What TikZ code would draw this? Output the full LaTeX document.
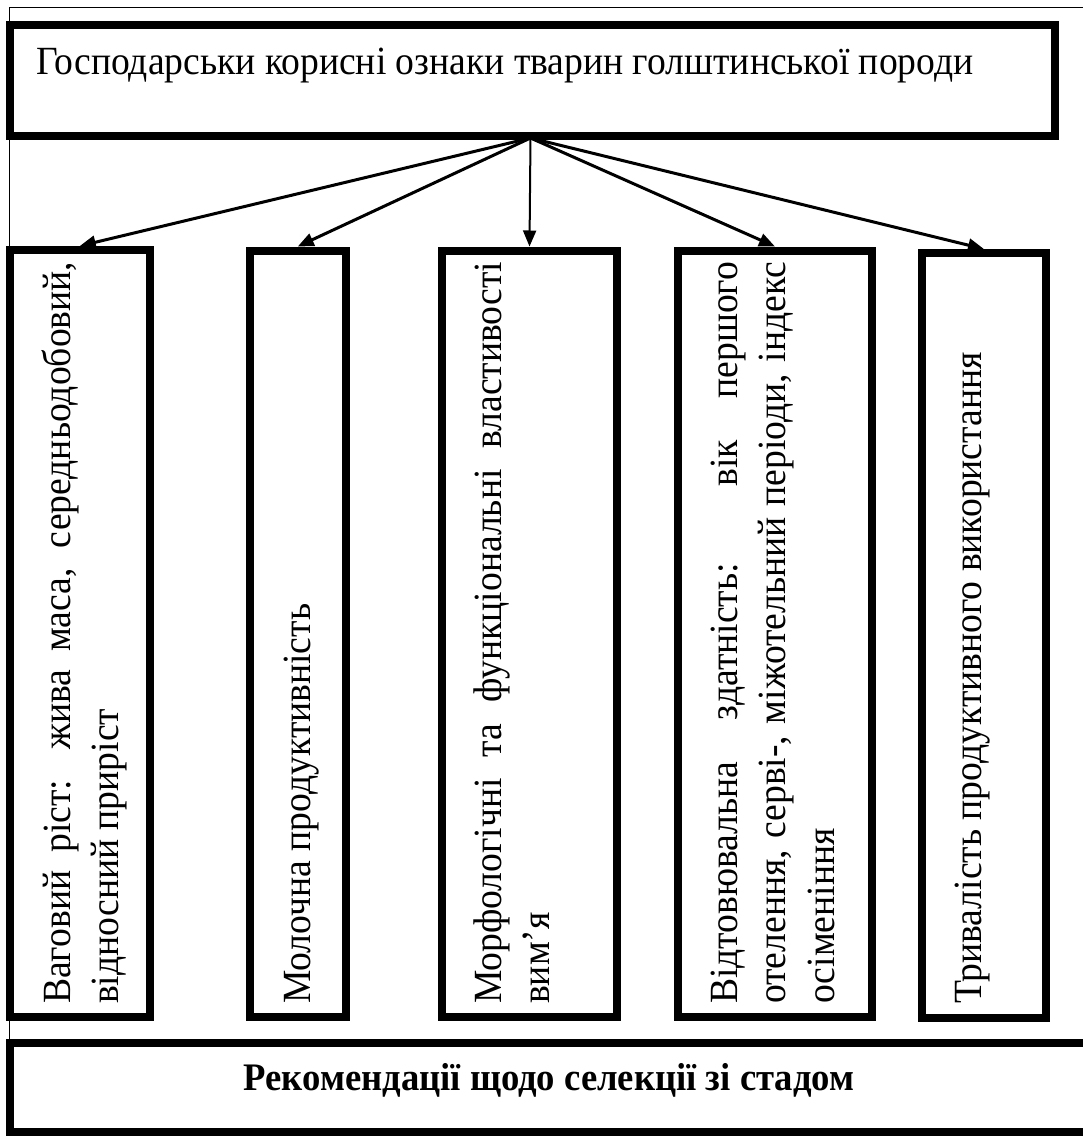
\documentclass[tikz,border=0pt]{standalone}
\usepackage{fontspec}
\setmainfont{Liberation Serif}[FakeStretch=0.94]
\usetikzlibrary{arrows.meta}
\hyphenpenalty=10000
\exhyphenpenalty=10000
\begin{document}
\begin{tikzpicture}[x=1pt,y=-1pt,
  box/.style={draw=black, line width=8pt, fill=white, rectangle, inner sep=0pt},
  frameline/.style={draw=black, line width=1.5pt},
  arr/.style={line width=3pt, -{Triangle[length=16pt,width=13pt]}},
  arrthin/.style={line width=2pt, -{Triangle[length=16pt,width=13pt]}},
  vtext/.style={rotate=90, anchor=base west, text width=742pt, align=justify, inner sep=0pt,
    font=\fontsize{40}{48.5}\selectfont},
  htext/.style={inner sep=0pt, font=\fontsize{40}{48}\selectfont},
  btext/.style={inner sep=0pt, font=\fontsize{39}{46}\selectfont\bfseries}]
\useasboundingbox (0,0) rectangle (1083,1136);
\clip (0,0) rectangle (1083,1136);
% thin outer frame
\draw[frameline] (9.5,1140) -- (9.5,7.5) -- (1090,7.5);
% boxes
\node[box, minimum width=1045pt, minimum height=111.5pt] (top) at (532.5,80.25) {};
\node[box, minimum width=139.5pt, minimum height=767pt] (b1) at (79.75,633.5) {};
\node[box, minimum width=95.5pt, minimum height=766.5pt] (b2) at (297.75,633.75) {};
\node[box, minimum width=175pt, minimum height=766.5pt] (b3) at (529.5,633.75) {};
\node[box, minimum width=194pt, minimum height=766.5pt] (b4) at (775,633.75) {};
\node[box, minimum width=124pt, minimum height=765pt] (b5) at (984,635.5) {};
\node[box, minimum width=1090pt, minimum height=89.5pt] (bot) at (555,1087.25) {};
% arrows
\draw[arr] ([xshift=-2pt,yshift=2pt]top.south) -- (b1.north);
\draw[arr] ([xshift=-2pt,yshift=2pt]top.south) -- (b2.north);
\draw[arrthin] ([xshift=-2pt,yshift=2pt]top.south) -- (b3.north);
\draw[arr] ([xshift=-2pt,yshift=2pt]top.south) -- (b4.north);
\draw[arr] ([xshift=-2pt,yshift=2pt]top.south) -- (b5.north);
% texts
\node[htext, anchor=base west] (toplabel) at (36,74) {Господарськи корисні ознаки тварин голштинської породи};
\node[vtext] (t1) at (70,1004) {Ваговий ріст: жива маса, середньодобовий,\linebreak відносний приріст};
\node[vtext] (t2) at (310,1004) {Молочна продуктивність};
\node[vtext] (t3) at (501,1004) {Морфологічні та функціональні властивості\linebreak вим’я};
\node[vtext] (t4) at (737,1004) {Відтовювальна здатність: вік першого\linebreak отелення, серві-, міжотельний періоди, індекс\linebreak осіменіння};
\node[vtext] (t5) at (981,1004) {Тривалість продуктивного використання};
\node[btext, anchor=base] (botlabel) at (549,1090) {Рекомендації щодо селекції зі стадом};
\end{tikzpicture}
\end{document}
